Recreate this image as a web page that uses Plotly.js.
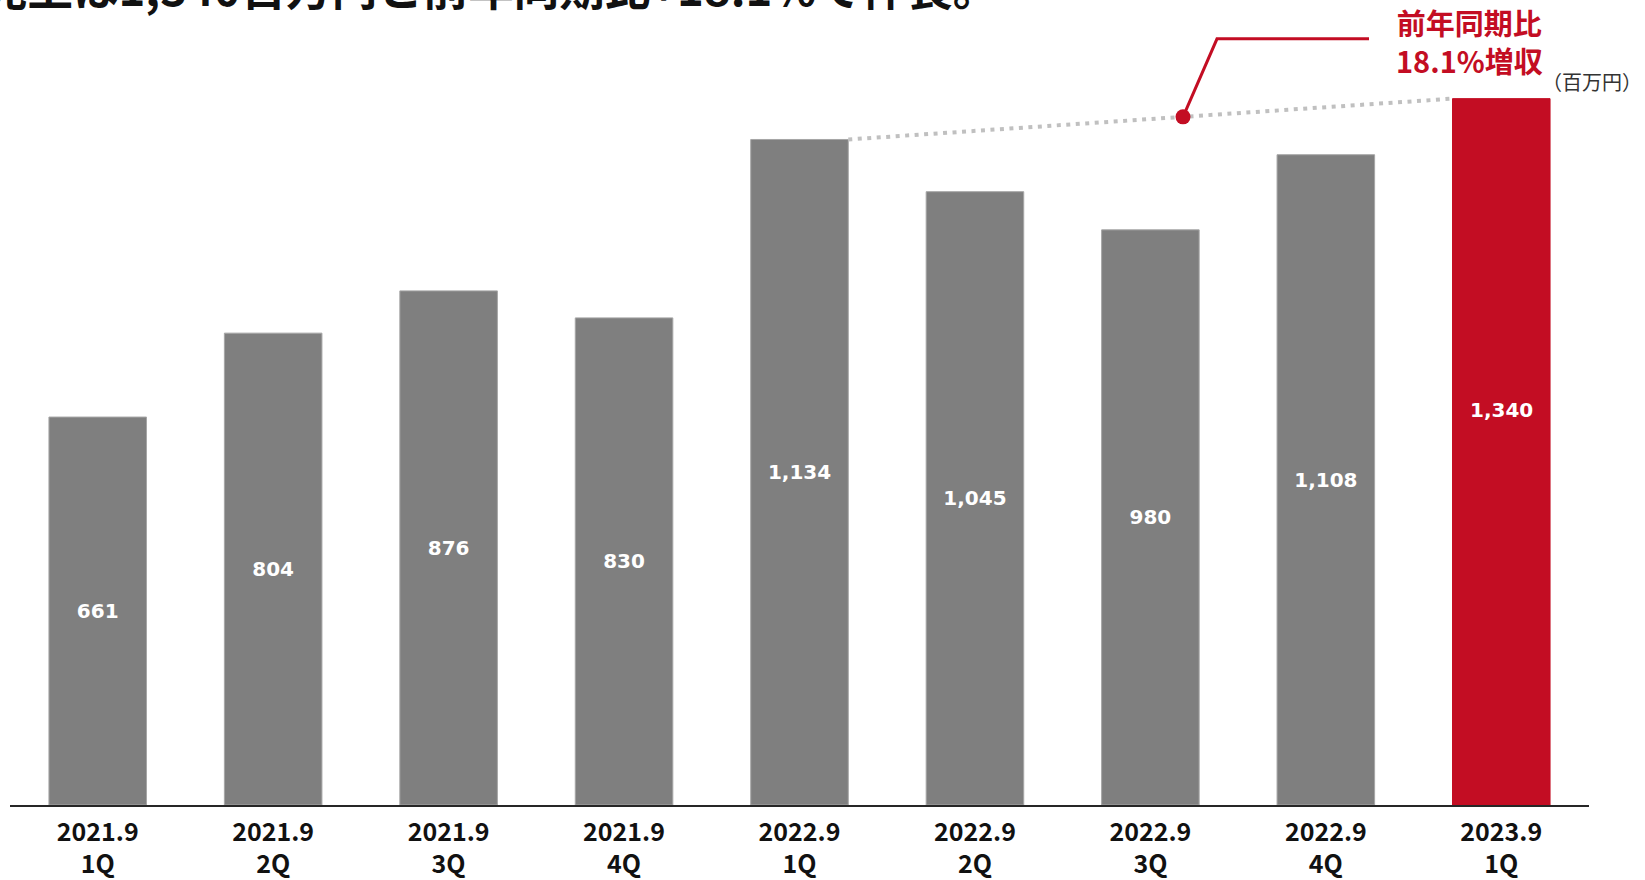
<!DOCTYPE html>
<html>
<head>
<meta charset="utf-8">
<script src="https://cdn.plot.ly/plotly-3.0.1.min.js"></script>
<style>
html,body{margin:0;padding:0;background:#fff;}
#chart{width:1645px;height:880px;}
</style>
</head>
<body>
<div id="chart"></div>
<script>
// ---- data ----
const periods = ['2021.9<br>1Q','2021.9<br>2Q','2021.9<br>3Q','2021.9<br>4Q','2022.9<br>1Q','2022.9<br>2Q','2022.9<br>3Q','2022.9<br>4Q','2023.9<br>1Q'];
const pastPeriods = periods.slice(0, 8);
const pastSales = [661, 804, 876, 830, 1134, 1045, 980, 1108];
const currentPeriod = periods[8];
const currentSales = 1340;
const yoyText = '前年同期比<br>18.1%増収';
const unitText = '（百万円）';
const headline = '売上は1,340百万円と前年同期比+18.1%で伸長。';

// ---- layout geometry ----
const W = 1645, H = 880;
const M = {l: 10, r: 56, t: 60, b: 75};
const PW = W - M.l - M.r, PH = H - M.t - M.b;
const Y1MAX = 1269.4;   // scale for past quarters
const Y2MAX = 1413.3;   // compressed scale for the current quarter bar
const BARGAP = 0.444;
const half = (1 - BARGAP) / 2;
const px2x = px => (px - M.l) / PW;
const py2y = py => (H - M.b - py) / PH;

const GRAY = '#7f7f7f', RED = '#c30d23';

const traces = [
  {
    type: 'bar', x: pastPeriods, y: pastSales, yaxis: 'y',
    marker: {color: GRAY, line: {color: '#a6a6a6', width: 1}},
    text: pastSales.map(v => v.toLocaleString('en-US')),
    textposition: 'inside', insidetextanchor: 'middle', textangle: 0,
    insidetextfont: {family: 'DejaVu Sans', size: 20, color: '#ffffff', weight: 'bold'},
    hoverinfo: 'skip'
  },
  {
    type: 'bar', x: [currentPeriod], y: [currentSales], yaxis: 'y2',
    marker: {color: RED, line: {color: RED, width: 1}},
    hoverinfo: 'skip'
  }
];

// dotted trend line from top of 2022.9 1Q to top of 2023.9 1Q
const ax0 = 4 + half, ay0 = pastSales[4] / Y1MAX;
const ax1 = 8 - half, ay1 = currentSales / Y2MAX;
const t = 0.554;
const dotX = ax0 + (ax1 - ax0) * t;
const dotY = ay0 + (ay1 - ay0) * t;

const shapes = [
  {type: 'line', xref: 'x', yref: 'paper', x0: ax0, y0: ay0, x1: ax1, y1: ay1,
   line: {color: '#c0c0c0', width: 4, dash: '4px,5.5px'}, layer: 'above'},
  {type: 'path', xref: 'paper', yref: 'paper',
   path: `M ${((dotX + 0.5) / 9).toFixed(5)} ${dotY.toFixed(5)} L ${px2x(1217).toFixed(5)} ${py2y(38.8).toFixed(5)} L ${px2x(1369).toFixed(5)} ${py2y(38.8).toFixed(5)}`,
   line: {color: RED, width: 3}},
  {type: 'circle', xref: 'x', yref: 'paper', xsizemode: 'pixel', ysizemode: 'pixel',
   xanchor: dotX, yanchor: dotY, x0: -7.5, x1: 7.5, y0: -7.5, y1: 7.5,
   fillcolor: RED, line: {color: RED, width: 0}}
];

const annotations = [
  {x: currentPeriod, y: currentSales / 2, xref: 'x', yref: 'y', yshift: 2, text: currentSales.toLocaleString('en-US'),
   showarrow: false, font: {family: 'DejaVu Sans', size: 20, color: '#ffffff', weight: 'bold'}},
  {x: px2x(1469), y: py2y(41.5), xref: 'paper', yref: 'paper', text: yoyText, showarrow: false,
   xanchor: 'center', yanchor: 'middle', align: 'center',
   font: {family: 'Noto Sans CJK JP', size: 29, color: RED, weight: 'bold'}},
  {x: px2x(1644), y: py2y(81), xref: 'paper', yref: 'paper', text: unitText, showarrow: false,
   xanchor: 'right', yanchor: 'middle',
   font: {family: 'Noto Sans CJK JP', size: 20, color: '#333333'}},
  {x: px2x(-20), y: py2y(-14), xref: 'paper', yref: 'paper', text: headline, showarrow: false,
   xanchor: 'left', yanchor: 'middle',
   font: {family: 'Noto Sans CJK JP', size: 45.5, color: '#111111', weight: 'bold'}}
];

const layout = {
  width: W, height: H,
  margin: M,
  paper_bgcolor: '#ffffff', plot_bgcolor: '#ffffff',
  showlegend: false,
  bargap: BARGAP,
  xaxis: {
    type: 'category', categoryorder: 'array', categoryarray: periods,
    range: [-0.5, 8.5],
    showline: true, linecolor: '#262626', linewidth: 1.5,
    showgrid: false, zeroline: false, ticks: '',
    ticklabelstandoff: 4,
    tickfont: {family: 'Noto Sans CJK JP', size: 25, color: '#111111', weight: 'bold'},
    fixedrange: true
  },
  yaxis: {range: [0, Y1MAX], visible: false, fixedrange: true},
  yaxis2: {range: [0, Y2MAX], overlaying: 'y', visible: false, fixedrange: true},
  shapes: shapes,
  annotations: annotations
};

Plotly.newPlot('chart', traces, layout, {displayModeBar: false, staticPlot: true});
</script>
</body>
</html>
